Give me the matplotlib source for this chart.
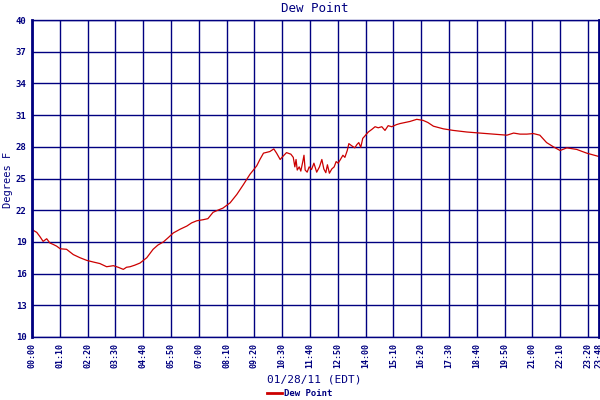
import matplotlib
matplotlib.use("Agg")
import matplotlib.pyplot as plt

# minutes after midnight and dew point (deg F)
minutes = [0, 3, 12, 20, 28, 37, 45, 54, 62, 71, 87, 104, 121, 138, 154, 171,
           188, 205, 217, 230, 238, 247, 259, 272, 289, 305, 317, 331, 343, 356,
           373, 390, 402, 415, 431, 443, 456, 468, 481, 499, 516, 532, 549, 566,
           574, 583, 599, 609, 616, 625, 632, 641, 652, 658, 662, 665, 668, 673,
           677, 682, 685, 688, 693, 698, 704, 710, 717, 724, 730, 735, 740, 744,
           749, 755, 761, 766, 771, 776, 783, 788, 794, 798, 805, 813, 818, 823,
           828, 833, 839, 847, 856, 864, 872, 881, 889, 897, 906, 918, 927, 952,
           969, 985, 997, 1011, 1036, 1061, 1095, 1128, 1162, 1196, 1213, 1229,
           1246, 1263, 1279, 1296, 1313, 1330, 1347, 1372, 1397, 1426]
dew_point = [20.4, 20.1, 19.9, 19.5, 19.05, 19.3, 18.9, 18.75, 18.6, 18.35, 18.3,
             17.8, 17.5, 17.25, 17.1, 16.95, 16.65, 16.75, 16.6, 16.4, 16.6, 16.65,
             16.8, 17.0, 17.5, 18.3, 18.7, 19.0, 19.4, 19.85, 20.2, 20.5, 20.8,
             21.0, 21.1, 21.2, 21.8, 22.0, 22.2, 22.7, 23.5, 24.4, 25.4, 26.2,
             26.8, 27.4, 27.55, 27.8, 27.4, 26.8, 27.1, 27.45, 27.3, 27.0, 26.1,
             26.8, 25.8, 26.1, 25.7, 26.6, 27.2, 25.8, 25.6, 26.1, 25.85, 26.45,
             25.6, 26.1, 26.8, 25.9, 25.55, 26.3, 25.5, 25.9, 26.1, 26.6, 26.45,
             26.75, 27.2, 27.0, 27.65, 28.3, 28.1, 27.9, 28.2, 28.4, 27.95, 28.8,
             29.05, 29.4, 29.65, 29.9, 29.8, 29.9, 29.55, 30.0, 29.9, 30.1, 30.2,
             30.4, 30.6, 30.5, 30.3, 29.95, 29.7, 29.55, 29.4, 29.3, 29.2, 29.1,
             29.3, 29.2, 29.2, 29.25, 29.1, 28.4, 28.0, 27.65, 27.9, 27.75, 27.4,
             27.1]

x_ticks = [0, 70, 140, 210, 280, 350, 420, 490, 560, 630, 700, 770, 840, 910,
           980, 1050, 1120, 1190, 1260, 1330, 1400, 1428]
x_labels = ["00:00", "01:10", "02:20", "03:30", "04:40", "05:50", "07:00",
            "08:10", "09:20", "10:30", "11:40", "12:50", "14:00", "15:10",
            "16:20", "17:30", "18:40", "19:50", "21:00", "22:10", "23:20", "23:48"]
y_ticks = [10, 13, 16, 19, 22, 25, 28, 31, 34, 37, 40]

navy = "#000080"
red = "#cc0000"
mono = "DejaVu Sans Mono"

fig = plt.figure(figsize=(6, 4), dpi=100)
ax = fig.add_axes([32 / 600, 1 - 337 / 400, 567 / 600, 317 / 400])

ax.plot(minutes, dew_point, color=red, linewidth=0.9, label="Dew Point")

ax.set_xlim(0, 1428)
ax.set_ylim(10, 40)
ax.set_xticks(x_ticks)
ax.set_xticklabels(x_labels, rotation=90, fontsize=6, family=mono,
                   color=navy, fontweight="bold")
ax.set_yticks(y_ticks)
ax.set_yticklabels([str(v) for v in y_ticks], fontsize=6.5, family=mono,
                   color=navy, fontweight="bold")
ax.tick_params(length=0, pad=4)
ax.grid(True, color=navy, linewidth=1.0)
ax.set_axisbelow(True)

for side, spine in ax.spines.items():
    spine.set_color(navy)
    spine.set_linewidth(1.0)
ax.spines["left"].set_linewidth(2.0)
ax.spines["right"].set_linewidth(2.0)

fig.text(315 / 600, 1 - 9 / 400, "Dew Point", ha="center", va="center",
         family=mono, fontsize=9, color=navy)
fig.text(8 / 600, 1 - 180 / 400, "Degrees F", ha="center", va="center",
         rotation=90, family=mono, fontsize=7.5, color=navy)
fig.text(314 / 600, 1 - 379 / 400, "01/28/11 (EDT)", ha="center", va="center",
         family=mono, fontsize=8, color=navy)

leg = fig.legend(loc="center", bbox_to_anchor=(300 / 600, 1 - 394 / 400),
                 frameon=False, handlelength=1.6, handletextpad=0.3,
                 prop={"family": mono, "size": 6.5, "weight": "bold"})
for t in leg.get_texts():
    t.set_color(navy)
for h in leg.get_lines():
    h.set_linewidth(2)

fig.savefig("out.png", dpi=100)
